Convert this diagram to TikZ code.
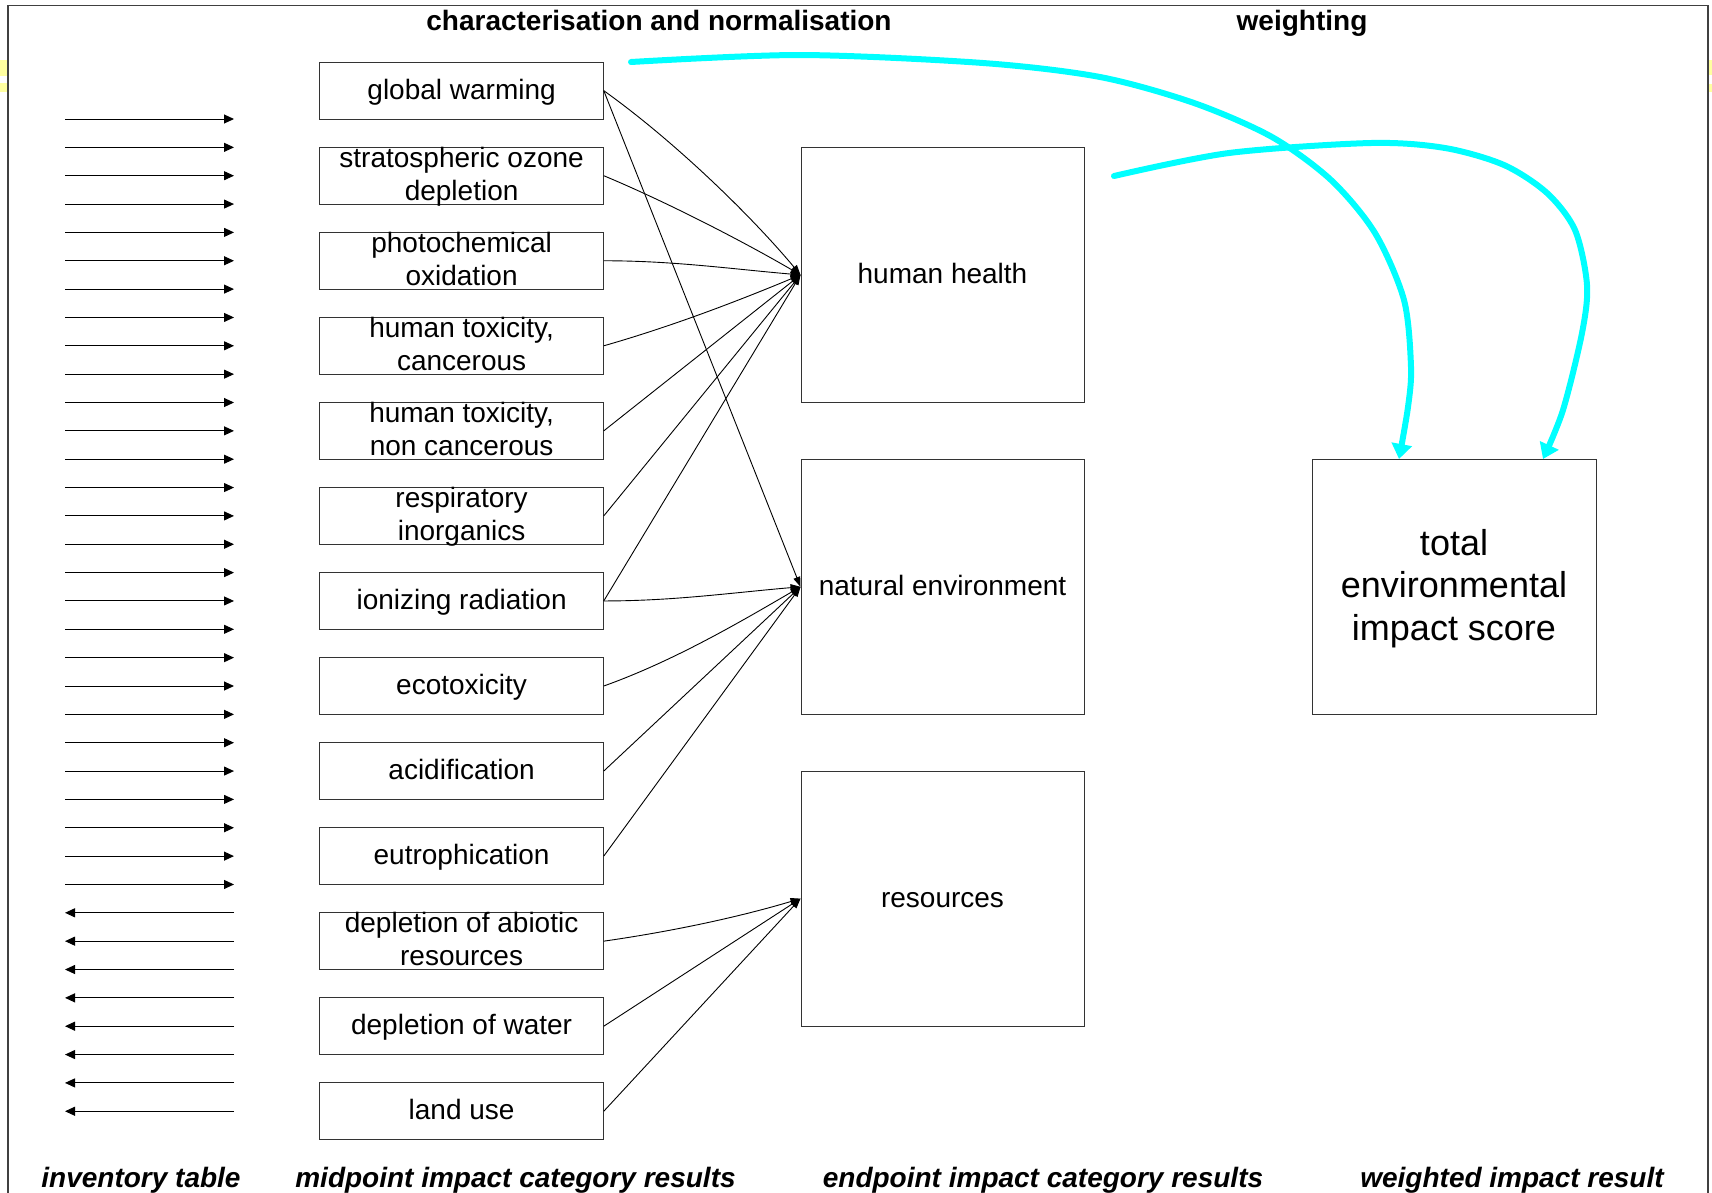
\documentclass[tikz,border=0pt]{standalone}
\usepackage{fontspec}
\setmainfont{Liberation Sans}
\usetikzlibrary{arrows.meta}
\definecolor{paleyellow}{RGB}{255,255,160}
\definecolor{aqua}{RGB}{0,255,255}
\newcommand{\oneln}[1]{\smash{\raisebox{-8.4pt}{#1}}}
\newcommand{\twoln}[2]{\smash{\raisebox{8.3pt}{\begin{tabular}[t]{@{}c@{}}#1\\#2\end{tabular}}}}
\newcommand{\threeln}[3]{\smash{\raisebox{31.8pt}{\begin{tabular}[t]{@{}c@{}}#1\\#2\\#3\end{tabular}}}}
\tikzset{
  midbox/.style={draw=black!80, line width=1pt, minimum width=283.3pt, minimum height=56.7pt,
    inner sep=0pt, font=\fontsize{28}{33}\selectfont},
  endbox/.style={draw=black!80, line width=1pt, minimum width=283pt, minimum height=255.15pt,
    inner sep=0pt, font=\fontsize{28}{33}\selectfont},
  totbox/.style={draw=black!80, line width=1pt, minimum width=284pt, minimum height=255.15pt,
    inner sep=0pt, font=\fontsize{36}{42.5}\selectfont},
  invarrow/.style={line width=1pt, -{Triangle[length=10pt,width=9pt]}},
  conn/.style={line width=0.9pt, -{Triangle[length=10pt,width=7pt]}},
  weightarrow/.style={aqua, line width=6pt, line cap=round, line join=round, -{Triangle[length=15pt,width=20pt]}},
  toptitle/.style={anchor=base, font=\fontsize{28}{32}\selectfont\bfseries, inner sep=0pt},
  bottitle/.style={anchor=base, font=\fontsize{28}{32}\selectfont\bfseries\itshape, inner sep=0pt}
}
\begin{document}
\begin{tikzpicture}[x=1pt,y=-1pt]
\useasboundingbox (0,0) rectangle (1712,1192);
% background remnants
\fill[paleyellow] (0,60) rectangle (8,76);
\fill[paleyellow] (0,83) rectangle (8,92);
\fill[paleyellow] (1709,60) rectangle (1712,75);
\fill[paleyellow] (1709,84) rectangle (1712,92);
% frame
\draw[black!75, line width=1.5pt] (8,1200) -- (8,5.5) -- (1708,5.5) -- (1708,1200);

% titles
\node[toptitle] (tchar) at (659,30) {characterisation and normalisation};
\node[toptitle] (tweight) at (1302,30) {weighting};
\node[bottitle] (binv) at (141,1187) {inventory table};
\node[bottitle] (bmid) at (515.5,1187) {midpoint impact category results};
\node[bottitle] (bend) at (1043,1187) {endpoint impact category results};
\node[bottitle] (bwei) at (1512,1187) {weighted impact result};

% inventory arrows
\foreach \i in {0,...,27}{
  \coordinate (ia\i) at (65,119+28.35*\i);
  \coordinate (ib\i) at (234,119+28.35*\i);
  \draw[invarrow] (ia\i) -- (ib\i);
}
\foreach \i in {28,...,35}{
  \coordinate (ia\i) at (65,119+28.35*\i);
  \coordinate (ib\i) at (234,119+28.35*\i);
  \draw[invarrow] (ib\i) -- (ia\i);
}

% midpoint boxes
\node[midbox] (gw)    at (461.6, 90.65) {\oneln{global warming}};
\node[midbox] (strat) at (461.6,175.70) {\twoln{stratospheric ozone}{depletion}};
\node[midbox] (photo) at (461.6,260.75) {\twoln{photochemical}{oxidation}};
\node[midbox] (htc)   at (461.6,345.80) {\twoln{human toxicity,}{cancerous}};
\node[midbox] (htnc)  at (461.6,430.85) {\twoln{human toxicity,}{non cancerous}};
\node[midbox] (resp)  at (461.6,515.90) {\twoln{respiratory}{inorganics}};
\node[midbox] (ion)   at (461.6,600.95) {\oneln{ionizing radiation}};
\node[midbox] (eco)   at (461.6,686.00) {\oneln{ecotoxicity}};
\node[midbox] (acid)  at (461.6,771.05) {\oneln{acidification}};
\node[midbox] (eut)   at (461.6,856.10) {\oneln{eutrophication}};
\node[midbox] (dab)   at (461.6,941.15) {\twoln{depletion of abiotic}{resources}};
\node[midbox] (wat)   at (461.6,1026.2) {\oneln{depletion of water}};
\node[midbox] (land)  at (461.6,1111.25) {\oneln{land use}};

% endpoint boxes
\node[endbox] (hh) at (942.5,274.9) {\oneln{human health}};
\node[endbox] (ne) at (942.5,586.8) {\oneln{natural environment}};
\node[endbox] (rs) at (942.5,898.6) {\oneln{resources}};
\node[totbox] (tot) at (1454,586.8) {\threeln{total}{environmental}{impact score}};

% connectors to human health
\draw[conn] (gw.east) .. controls +(70,50) and +(-50,-60) .. (hh.west);
\draw[conn] (strat.east) .. controls +(60,25) and +(-60,-35) .. (hh.west);
\draw[conn] (photo.east) .. controls +(70,0) and +(-70,-6) .. (hh.west);
\draw[conn] (htc.east) .. controls +(70,-20) and +(-60,25) .. (hh.west);
\draw[conn] (htnc.east) -- (hh.west);
\draw[conn] (resp.east) -- (hh.west);
\draw[conn] (ion.east) -- (hh.west);
% connectors to natural environment
\draw[conn] (gw.east) -- (ne.west);
\draw[conn] (ion.east) .. controls +(70,0) and +(-70,6) .. (ne.west);
\draw[conn] (eco.east) .. controls +(70,-25) and +(-60,35) .. (ne.west);
\draw[conn] (acid.east) -- (ne.west);
\draw[conn] (eut.east) -- (ne.west);
% connectors to resources
\draw[conn] (dab.east) .. controls +(70,-10) and +(-60,18) .. (rs.west);
\draw[conn] (wat.east) -- (rs.west);
\draw[conn] (land.east) -- (rs.west);

% weighting arrows
\coordinate (w1s) at (631,62);
\coordinate (w1e) at (1399,459);
\coordinate (w2s) at (1114,176);
\coordinate (w2e) at (1543,459);
\draw[weightarrow] plot[smooth, tension=0.5] coordinates {(w1s) (800,55) (983,63) (1100,77) (1194,103) (1272,137) (1331,180) (1375,233) (1404,300) (1411,367) (1408,407) (w1e)};
\draw[weightarrow] plot[smooth, tension=0.5] coordinates {(w2s) (1229,153) (1371,143) (1445,148) (1504,165) (1547,193) (1575,230) (1587,285) (1582,333) (1563,410) (w2e)};
\end{tikzpicture}
\end{document}
